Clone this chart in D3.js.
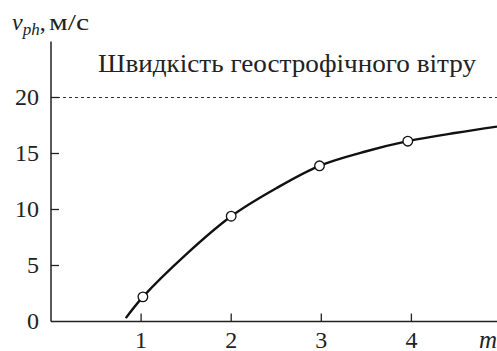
<!DOCTYPE html>
<html>
<head>
<meta charset="utf-8">
<script src="https://cdn.jsdelivr.net/npm/d3@7"></script>
<style>
  body { margin: 0; background: #fff; }
  svg text { font-family: "Liberation Serif", "Times New Roman", Times, serif; fill: #222; }
</style>
</head>
<body>
<svg id="chart" width="497" height="351"></svg>
<script>
// measured points (circles)
const mValues = [1.02, 2, 2.98, 3.96];
const vValues = [2.2, 9.4, 13.9, 16.1];
// the smooth curve
const curveM = [0.83, 1.02, 1.5, 2, 2.5, 2.98, 3.5, 3.96, 4.5, 4.95];
const curveV = [0.3, 2.2, 6.0, 9.4, 11.9, 13.9, 15.2, 16.1, 16.85, 17.4];
const xTicks = [1, 2, 3, 4];
const yTicks = [0, 5, 10, 15, 20];
const windLevel = 20;
const title = "Швидкість геострофічного вітру";

const svg = d3.select("#chart");
const x = d3.scaleLinear().domain([0, 4.95]).range([51, 497]);
const y = d3.scaleLinear().domain([0, 25]).range([321.5, 41.5]);

// dashed geostrophic level
svg.append("line")
  .attr("x1", x(0)).attr("x2", x(4.95))
  .attr("y1", y(windLevel)).attr("y2", y(windLevel))
  .style("stroke", "#333").style("stroke-width", 1)
  .style("stroke-dasharray", "3,3");

// axes lines
svg.append("line")
  .attr("x1", x(0)).attr("x2", x(0)).attr("y1", y(0)).attr("y2", y(25))
  .style("stroke", "#222").style("stroke-width", 1.5);
svg.append("line")
  .attr("x1", x(0)).attr("x2", x(4.95)).attr("y1", y(0)).attr("y2", y(0))
  .style("stroke", "#222").style("stroke-width", 1.5);

// y ticks
svg.selectAll(".ytick").data(yTicks.filter(d => d > 0)).enter().append("line")
  .attr("x1", x(0)).attr("x2", x(0) + 8)
  .attr("y1", d => y(d)).attr("y2", d => y(d))
  .style("stroke", "#222").style("stroke-width", 1.3);
svg.selectAll(".ylab").data(yTicks).enter().append("text")
  .attr("x", 39).attr("y", d => y(d)).attr("dy", "0.33em")
  .attr("text-anchor", "end")
  .style("font-size", "24px")
  .text(d => d);

// x ticks
svg.selectAll(".xtick").data(xTicks).enter().append("line")
  .attr("x1", d => x(d)).attr("x2", d => x(d))
  .attr("y1", y(0)).attr("y2", y(0) - 8)
  .style("stroke", "#222").style("stroke-width", 1.3);
svg.selectAll(".xlab").data(xTicks).enter().append("text")
  .attr("x", d => x(d)).attr("y", 348)
  .attr("text-anchor", "middle")
  .style("font-size", "24px")
  .text(d => d);

svg.append("text")
  .attr("x", 497).attr("y", 348)
  .attr("text-anchor", "end")
  .style("font-size", "25px").style("font-style", "italic")
  .text("m");

// y axis label
let ylab = svg.append("text").attr("x", 12).attr("y", 30).style("font-size", "24px");
ylab.append("tspan").style("font-style", "italic").text("v");
ylab.append("tspan").style("font-style", "italic").style("font-size", "17px").attr("dy", 5).text("ph");
ylab.append("tspan").attr("dy", -5).text(",");
ylab.append("tspan").attr("x", 49).attr("textLength", 40).attr("lengthAdjust", "spacingAndGlyphs").text("м/с");

// title
svg.append("text")
  .attr("x", 98).attr("y", 72)
  .style("font-size", "25.5px")
  .attr("textLength", 378).attr("lengthAdjust", "spacingAndGlyphs")
  .text(title);

// curve
const curveData = curveM.map((m, i) => [m, curveV[i]]);
svg.append("path")
  .datum(curveData)
  .attr("d", d3.line().x(d => x(d[0])).y(d => y(d[1])).curve(d3.curveCatmullRom))
  .style("fill", "none").style("stroke", "#111").style("stroke-width", 2.4);

// circles
svg.selectAll(".pt").data(mValues.map((m, i) => [m, vValues[i]])).enter().append("circle")
  .attr("cx", d => x(d[0])).attr("cy", d => y(d[1]))
  .attr("r", 4.8)
  .style("fill", "#fff").style("stroke", "#111").style("stroke-width", 1.3);
</script>
</body>
</html>
